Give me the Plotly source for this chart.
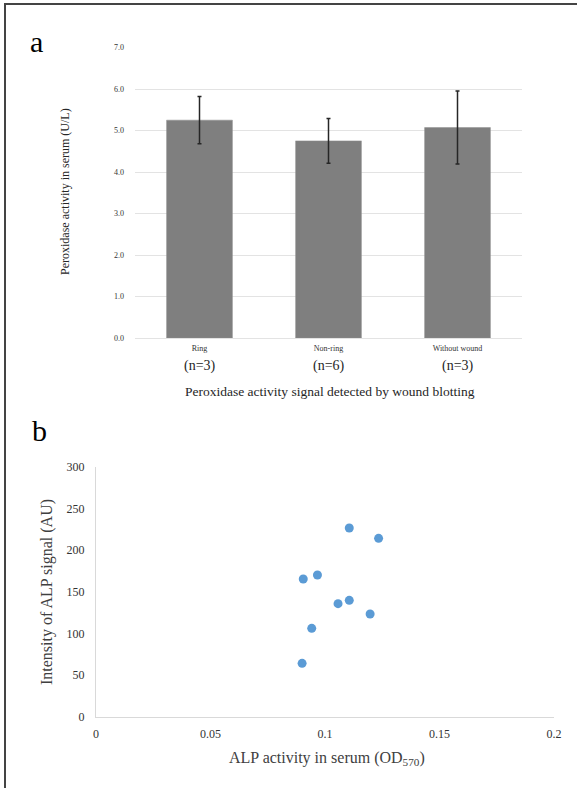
import plotly.graph_objects as go

# ---- Panel a data ----
categories = ["Ring", "Non-ring", "Without wound"]
n_labels = ["(n=3)", "(n=6)", "(n=3)"]
peroxidase_mean = [5.25, 4.75, 5.07]
peroxidase_err = [0.57, 0.54, 0.88]
a_yticks = [0, 1, 2, 3, 4, 5, 6, 7]

# ---- Panel b data ----
alp_od = [0.1106, 0.1234, 0.0967, 0.0905, 0.1106, 0.1057, 0.1197, 0.0942, 0.0900]
alp_signal = [226.7, 214.3, 170.2, 165.4, 139.8, 135.8, 123.4, 106.2, 64.1]
b_xticks = [0, 0.05, 0.1, 0.15, 0.2]
b_xticklabels = ["0", "0.05", "0.1", "0.15", "0.2"]
b_yticks = [0, 50, 100, 150, 200, 250, 300]

W, H = 577, 788
def px(x): return x / W
def py(y): return 1 - y / H

SERIF = "Liberation Serif, Times New Roman, serif"

fig = go.Figure()

fig.add_trace(go.Bar(
    x=categories, y=peroxidase_mean,
    error_y=dict(type="data", array=peroxidase_err, color="#262626", thickness=1.5, width=2),
    marker=dict(color="#7f7f7f", line=dict(color="#8c8c8c", width=0.5)),
    width=0.51, xaxis="x", yaxis="y", showlegend=False,
))

fig.add_trace(go.Scatter(
    x=alp_od, y=alp_signal, mode="markers",
    marker=dict(color="#5b9bd5", size=9, line=dict(width=0)),
    xaxis="x2", yaxis="y2", showlegend=False,
))

fig.update_layout(
    template="none",
    width=W, height=H,
    margin=dict(l=0, r=0, t=0, b=0, pad=0),
    paper_bgcolor="white", plot_bgcolor="rgba(0,0,0,0)",
    font=dict(family=SERIF, color="#404040"),
    xaxis=dict(domain=[px(135), px(522)], anchor="y", showgrid=False, showline=False,
               automargin=False, zeroline=False,
               ticks="", tickfont=dict(size=8, color="#333333", family=SERIF), ticklabelstandoff=4,
               fixedrange=True),
    yaxis=dict(domain=[py(338), py(47.5)], anchor="x", range=[0, 7], tickvals=a_yticks,
               tickformat=".1f", showgrid=True, gridcolor="#e3e3e3", gridwidth=1,
               zeroline=True, zerolinecolor="#e3e3e3", zerolinewidth=1, automargin=False,
               showline=False, ticks="", ticklabelstandoff=10,
               tickfont=dict(size=8, color="#333333", family=SERIF)),
    xaxis2=dict(domain=[px(96), px(554)], anchor="y2", range=[0, 0.2], tickvals=b_xticks,
                ticktext=b_xticklabels, showgrid=False, zeroline=False, automargin=False,
                showline=True, linecolor="#d9d9d9", linewidth=1, ticks="", ticklabelstandoff=6,
                tickfont=dict(size=12, color="#333333", family=SERIF)),
    yaxis2=dict(domain=[py(716.7), py(467)], anchor="x2", range=[0, 300], tickvals=b_yticks,
                showgrid=False, zeroline=False, showline=True, linecolor="#d9d9d9", linewidth=1,
                ticks="", ticklabelstandoff=8, automargin=False,
                tickfont=dict(size=12, color="#333333", family=SERIF)),
)

def note(text, x, y, size, color="#262626", angle=0):
    return dict(text=text, x=px(x), y=py(y), xref="paper", yref="paper", showarrow=False,
                xanchor="center", yanchor="middle", textangle=angle,
                font=dict(size=size, color=color, family=SERIF))

ann = []
ann.append(note("a", 36, 42, 30, "black"))
ann.append(note("b", 39, 430, 30, "black"))
for c, n in zip(categories, n_labels):
    ann.append(dict(text=n, x=c, xref="x", y=py(366), yref="paper", showarrow=False,
                    xanchor="center", yanchor="middle",
                    font=dict(size=14, color="#262626", family=SERIF)))
ann.append(note("Peroxidase activity signal detected by wound blotting", 330, 391, 13.5))
ann.append(note("Peroxidase activity in serum (U/L)", 65, 192, 12, angle=-90))
ann.append(note("ALP activity in serum (OD<sub>570</sub>)", 327, 758, 16, "#404040"))
ann.append(note("Intensity of ALP signal (AU)", 47, 592, 16, "#404040", angle=-90))
fig.update_layout(annotations=ann)

# frame
fig.add_shape(type="line", xref="paper", yref="paper", x0=px(4), x1=1.0, y0=py(4), y1=py(4),
              line=dict(color="#444444", width=2))
fig.add_shape(type="line", xref="paper", yref="paper", x0=px(5), x1=px(5), y0=py(4), y1=0,
              line=dict(color="#444444", width=2))

fig.write_html("out.html", config={"displayModeBar": False},
               post_script="document.body.style.margin='0';document.body.style.overflow='hidden';")
